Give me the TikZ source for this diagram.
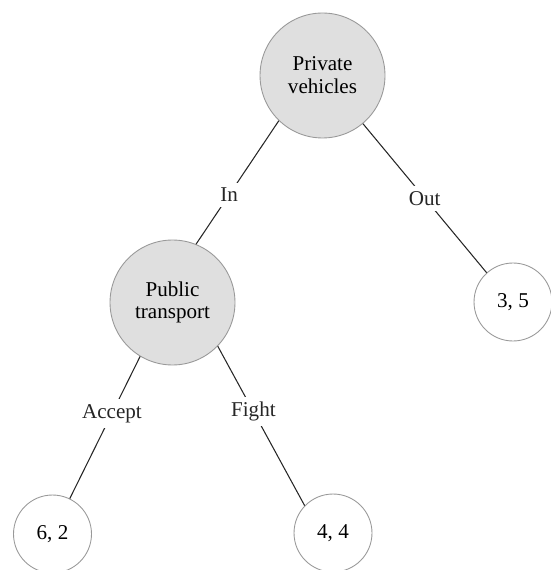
\documentclass[tikz,border=0pt]{standalone}
\usepackage{fontspec}
\setmainfont{Liberation Serif}
\begin{document}
\begin{tikzpicture}[
  x=0.02cm, y=-0.02cm,
  % Decision nodes and payoff nodes
  decision/.style={circle, draw=gray!80, fill=gray!25, minimum size=2.5cm, inner sep=0pt, align=center, font=\fontsize{12}{13}\selectfont, line width=0.5pt},
  payoff/.style={circle, draw=gray!80, fill=white, minimum size=1.56cm, inner sep=0pt, align=center, font=\fontsize{12}{13}\selectfont, line width=0.5pt},
  % Branches and their labels
  branch/.style={black!85, line width=0.6pt},
  choice/.style={fill=white, inner sep=3pt, font=\fontsize{12}{13}\selectfont}
]

\useasboundingbox (0,0) rectangle (550,570);

% Decision nodes
\node[decision] (pv) at (322.5,75.5) {Private\\vehicles};
\node[decision] (pt) at (172.5,302.5) {Public\\transport};

% Payoffs
\node[payoff] (out) at (513,302) {3, 5};
\node[payoff] (acc) at (52.5,534) {6, 2};
\node[payoff] (fig) at (333,533) {4, 4};

% Branches
\draw[branch] (pv.226) -- node[choice, pos=0.6] (in) {In} (pt.68);
\draw[branch] (pv.310) -- node[choice, pos=0.50] (outl) {Out} (out.132);
\draw[branch] (pt.239) -- node[choice, pos=0.40] (accl) {Accept} (acc.64);
\draw[branch] (pt.316) -- node[choice, pos=0.41] (figl) {Fight} (fig.136);

\end{tikzpicture}
\end{document}
